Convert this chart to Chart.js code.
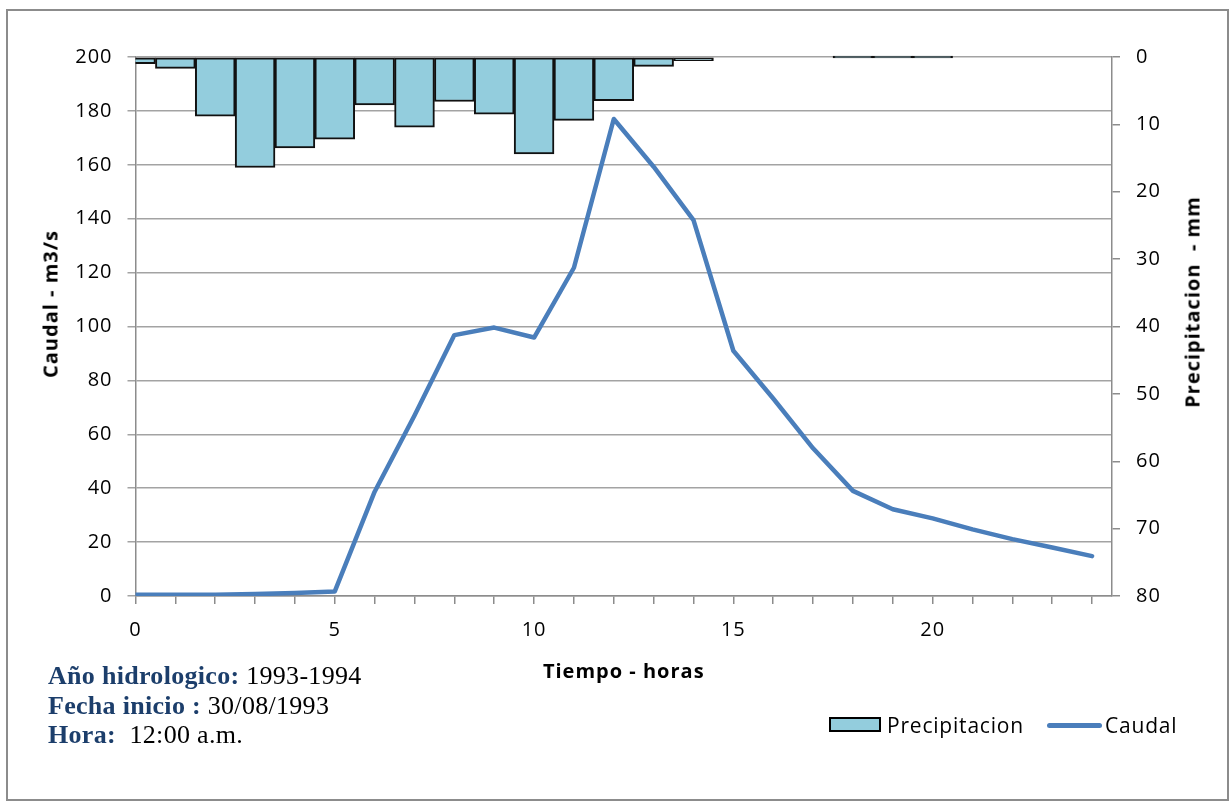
<!DOCTYPE html>
<html>
<head>
<meta charset="utf-8">
<script src="https://cdn.jsdelivr.net/npm/chart.js@4.4.1/dist/chart.umd.min.js"></script>
<style>
  body { margin: 0; background: #fff; }
  #wrap { position: relative; width: 1231px; height: 804px; overflow: hidden; }
  #frame { position: absolute; left: 6px; top: 9px; width: 1223px; height: 792px; border: 2px solid #8c8c8c; box-sizing: border-box; }
  canvas { position: absolute; left: 0; top: 0; }
  .ytitle { position: absolute; font: bold 20px 'Open Sans'; letter-spacing: 1px; white-space: pre; color: #000;
            transform: translate(-50%, -50%) rotate(-90deg); }
  .leg { position: absolute; font: 21px 'Open Sans'; line-height: 24px; letter-spacing: 0.8px; color: #000; }
  #notes { position: absolute; left: 48px; top: 661px; font: 26px 'Liberation Serif'; line-height: 29.5px; letter-spacing: 0.3px; color: #000; white-space: pre; }
  #notes b { color: #1c3e6b; }
</style>
</head>
<body>
<div id="wrap">
  <div id="frame"></div>
  <canvas id="chart" width="1231" height="804"></canvas>
  <div class="ytitle" style="left:50px; top:304px;">Caudal - m3/s</div>
  <div class="ytitle" style="left:1192px; top:302px;">Precipitacion  - mm</div>
  <div class="leg" style="left:829px; top:717px; width:52px; height:15px; background:#93CDDD; border:2px solid #000; box-sizing:border-box;"></div>
  <div class="leg" style="left:887px; top:713px;">Precipitacion</div>
  <div class="leg" style="left:1047px; top:723px; width:55px; height:4.5px; background:#4A7EBB; border-radius:3px;"></div>
  <div class="leg" style="left:1105px; top:713px;">Caudal</div>
  <div id="notes"><b>Año hidrologico:</b> 1993-1994
<b>Fecha inicio :</b> 30/08/1993
<b>Hora:</b>  12:00 a.m.</div>
</div>
<script>
// horas 0..24
const horas = [0, 1, 2, 3, 4, 5, 6, 7, 8, 9, 10, 11, 12, 13, 14, 15, 16, 17, 18, 19, 20, 21, 22, 23, 24];
// caudal m3/s
const caudal = [0.5, 0.5, 0.5, 0.7, 1.1, 1.7, 38.7, 67, 96.8, 99.6, 95.9, 121.8, 177, 159.3, 139.5, 91, 73.3, 54.8, 39, 32.2, 28.8, 24.7, 21.1, 18, 14.8];
// precipitacion mm (horas 0..20)
const precipitacion = [1.0, 1.7, 8.8, 16.4, 13.5, 12.2, 7.1, 10.4, 6.6, 8.5, 14.4, 9.4, 6.5, 1.4, 0.55, null, null, null, 0, 0, 0];

Chart.defaults.font.family = 'Open Sans';
Chart.defaults.color = '#000';

const tickFont = { family: 'Open Sans', size: 20 };
const gridGray = '#a3a3a3';
const axisGray = '#8c8c8c';

// the original text is a bit wide, give the canvas text some spacing
const wideText = {
  id: 'wideText',
  beforeLayout: chart => { chart.ctx.letterSpacing = '1px'; },
  beforeDraw: chart => { chart.ctx.letterSpacing = '1px'; }
};

const ctx = document.getElementById('chart').getContext('2d');
new Chart(ctx, {
  type: 'bar',
  data: {
    datasets: [
      {
        type: 'line',
        label: 'Caudal',
        data: horas.map((h, i) => ({ x: h, y: caudal[i] })),
        yAxisID: 'y',
        borderColor: '#4A7EBB',
        borderWidth: 4.5,
        pointRadius: 0,
        tension: 0,
        borderCapStyle: 'round',
        borderJoinStyle: 'round',
        order: 0
      },
      {
        type: 'bar',
        label: 'Precipitacion',
        data: precipitacion.map((p, i) => ({ x: horas[i], y: p })),
        yAxisID: 'y1',
        backgroundColor: '#93CDDD',
        borderColor: '#111',
        borderWidth: 2,
        borderSkipped: false,
        barPercentage: 1,
        categoryPercentage: 1,
        minBarLength: 2,
        clip: { left: 0, top: 3, right: 0, bottom: 0 },
        order: 1
      }
    ]
  },
  plugins: [wideText],
  options: {
    responsive: false,
    animation: false,
    layout: { padding: { left: 0, right: 0, top: 57, bottom: 108 } },
    plugins: { legend: { display: false }, tooltip: { enabled: false } },
    scales: {
      x: {
        type: 'linear',
        min: 0,
        max: 24.5,
        offset: false,
        ticks: {
          stepSize: 1, includeBounds: false, autoSkip: false, maxRotation: 0,
          padding: 14, font: tickFont, color: '#000',
          callback: v => (v % 5 === 0 ? v : '')
        },
        grid: { drawOnChartArea: false, offset: false, tickLength: 8, color: axisGray, lineWidth: 1.5 },
        border: { color: axisGray, width: 1.5 },
        title: {
          display: true, text: 'Tiempo - horas', color: '#000',
          font: { family: 'Open Sans', size: 20, weight: 'bold' },
          padding: { top: 0, bottom: 12 }
        },
        afterFit: s => { s.height = 100; }
      },
      y: {
        position: 'left',
        min: 0,
        max: 200,
        ticks: { stepSize: 20, padding: 15, font: tickFont, color: '#000' },
        grid: { color: gridGray, lineWidth: 1.5, tickLength: 8 },
        border: { color: axisGray, width: 1.5 },
        afterFit: s => { s.width = 135.5; }
      },
      y1: {
        position: 'right',
        reverse: true,
        min: 0,
        max: 80,
        ticks: { stepSize: 10, padding: 16, font: tickFont, color: '#000' },
        grid: { drawOnChartArea: false, tickLength: 8, color: axisGray, lineWidth: 1.5 },
        border: { color: axisGray, width: 1.5 },
        afterFit: s => { s.width = 119; }
      }
    }
  }
});
</script>
</body>
</html>
